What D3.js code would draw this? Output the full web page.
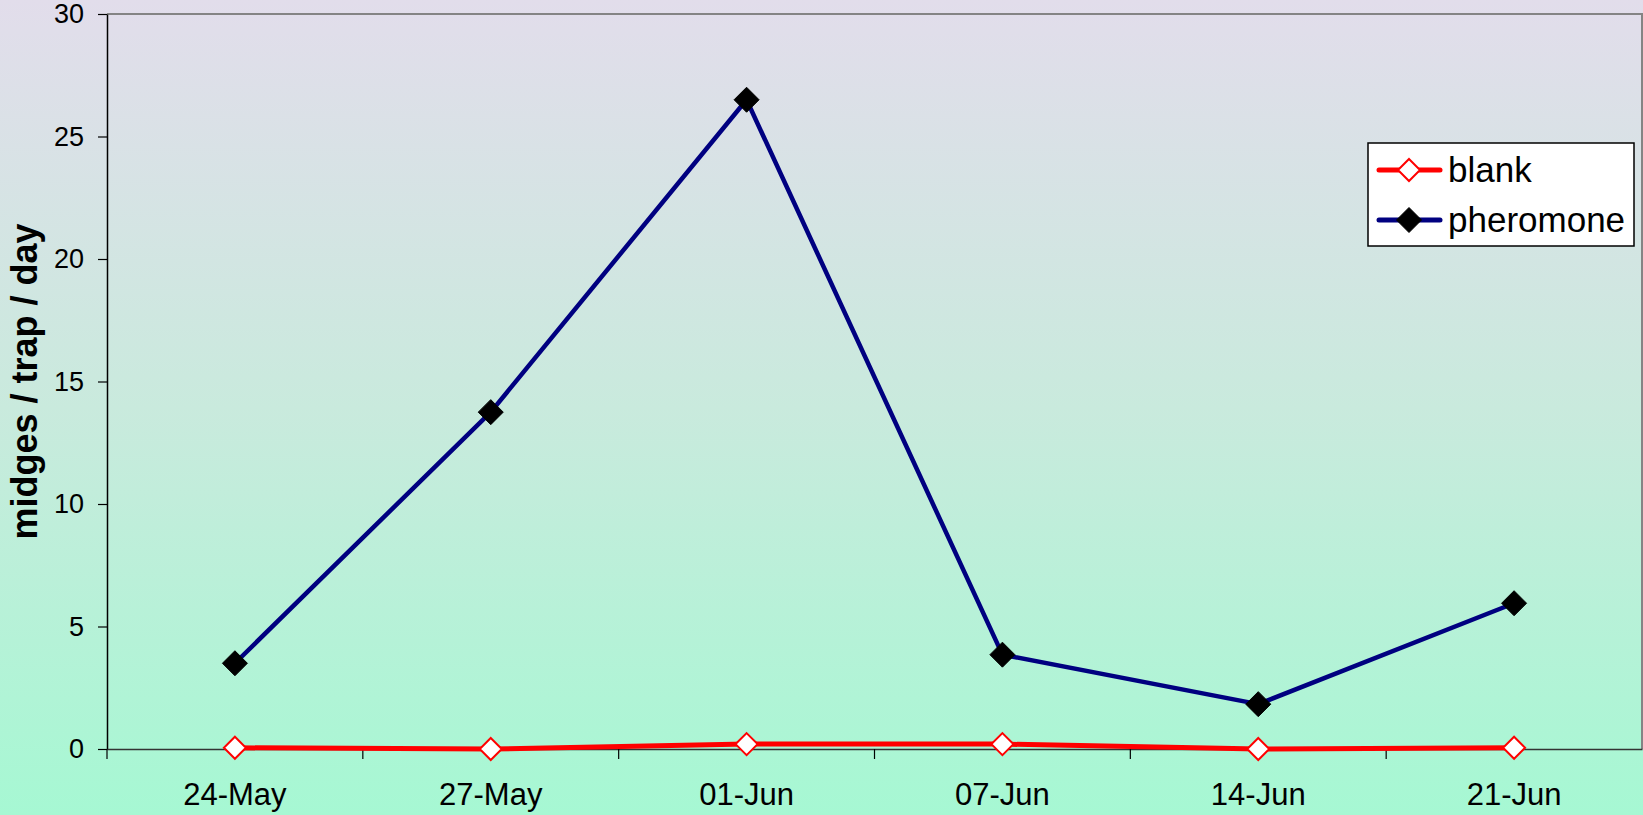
<!DOCTYPE html>
<html>
<head>
<meta charset="utf-8">
<script src="https://cdn.jsdelivr.net/npm/d3@7"></script>
<style>
html,body{margin:0;padding:0;overflow:hidden;}
svg{display:block;font-family:"Liberation Sans",Arial,sans-serif;}
</style>
</head>
<body>
<svg id="chart" width="1643" height="815"></svg>
<script>
const categories = ["24-May","27-May","01-Jun","07-Jun","14-Jun","21-Jun"];
const blank = [0.05, 0, 0.2, 0.2, 0, 0.05];
const pheromone = [3.5, 13.75, 26.5, 3.85, 1.83, 5.95];
const yTicks = [0,5,10,15,20,25,30];
const seriesNames = ["blank","pheromone"];

const W = 1643, H = 815;
const m = {left:107, right:1, top:14, bottom:66};
const svg = d3.select("#chart");

const defs = svg.append("defs");
const grad = defs.append("linearGradient").attr("id","bg").attr("x1",0).attr("y1",0).attr("x2",0).attr("y2",1);
grad.append("stop").attr("offset","0%").attr("stop-color","#e2ddeb");
grad.append("stop").attr("offset","50%").attr("stop-color","#c9eadd");
grad.append("stop").attr("offset","100%").attr("stop-color","#a6f8d3");
svg.append("rect").attr("width",W).attr("height",H).attr("fill","url(#bg)");

const x = d3.scaleBand().domain(categories).range([m.left, W - m.right]);
const y = d3.scaleLinear().domain([0,30]).range([H - m.bottom, m.top]);

// plot border (top and right)
svg.append("path")
  .attr("d", `M${m.left},${y(30)}H${W-m.right}V${y(0)}`)
  .attr("fill","none").attr("stroke","#848484").attr("stroke-width",2);

// y axis
const yAxis = d3.axisLeft(y).tickValues(yTicks).tickSize(9).tickPadding(14).tickSizeOuter(0);
const gy = svg.append("g").attr("transform",`translate(${m.left},0)`).call(yAxis);
gy.select(".domain").attr("stroke","#000").attr("stroke-width",1.5);
gy.selectAll(".tick line").attr("stroke","#000").attr("stroke-width",1.2);
gy.selectAll(".tick text").attr("font-size",27).attr("fill","#000").attr("font-family","Liberation Sans, Arial, sans-serif");

// x axis
const xAxis = d3.axisBottom(x).tickSize(0).tickPadding(34).tickSizeOuter(0);
const gx = svg.append("g").attr("transform",`translate(0,${y(0)})`).call(xAxis);
gx.select(".domain").attr("stroke","#333").attr("stroke-width",1.5);
gx.selectAll(".tick text").attr("font-size",31).attr("fill","#000").attr("font-family","Liberation Sans, Arial, sans-serif");
// category boundary ticks
const bounds = categories.map(c => x(c));
gx.selectAll(".bt").data(bounds).enter().append("line")
  .attr("x1", d => d).attr("x2", d => d).attr("y1", 0).attr("y2", 10)
  .attr("stroke","#000").attr("stroke-width",1.2);

// y axis title
svg.append("text")
  .attr("transform",`translate(37,${(y(0)+y(30))/2}) rotate(-90)`)
  .attr("text-anchor","middle")
  .attr("font-size",36).attr("font-weight","bold").attr("fill","#000")
  .text("midges / trap / day");

const cx = c => x(c) + x.bandwidth()/2;
const line = d3.line().x((d,i) => cx(categories[i])).y(d => y(d));
const diamond = s => `M0,${-s}L${s},0L0,${s}L${-s},0Z`;

// pheromone series
svg.append("path").datum(pheromone).attr("d", line)
  .attr("fill","none").attr("stroke","#000080").attr("stroke-width",4.5).attr("stroke-linejoin","round");
svg.selectAll(".pm").data(pheromone).enter().append("path")
  .attr("transform",(d,i)=>`translate(${cx(categories[i])},${y(d)})`)
  .attr("d", diamond(12.5)).attr("fill","#000").attr("stroke","#000").attr("stroke-width",1);

// blank series
svg.append("path").datum(blank).attr("d", line)
  .attr("fill","none").attr("stroke","#ff0000").attr("stroke-width",5).attr("stroke-linejoin","round");
svg.selectAll(".bm").data(blank).enter().append("path")
  .attr("transform",(d,i)=>`translate(${cx(categories[i])},${y(d)})`)
  .attr("d", diamond(11)).attr("fill","#fff").attr("stroke","#ff0000").attr("stroke-width",2);

// legend
const lg = svg.append("g");
lg.append("rect").attr("x",1368).attr("y",143).attr("width",266).attr("height",103)
  .attr("fill","#fff").attr("stroke","#000").attr("stroke-width",1.5);
const legendItems = [
  {name: seriesNames[0], color:"#ff0000", fill:"#fff", size:11, sw:2, y:170},
  {name: seriesNames[1], color:"#000080", fill:"#000", size:12.5, sw:1, y:220}
];
legendItems.forEach(it => {
  lg.append("line").attr("x1",1379).attr("x2",1440).attr("y1",it.y).attr("y2",it.y)
    .attr("stroke",it.color).attr("stroke-width",5).attr("stroke-linecap","round");
  lg.append("path").attr("transform",`translate(1409,${it.y})`).attr("d",diamond(it.size))
    .attr("fill",it.fill).attr("stroke", it.fill === "#000" ? "#000" : it.color).attr("stroke-width",it.sw);
  lg.append("text").attr("x",1448).attr("y",it.y+12).attr("font-size",35).attr("fill","#000").text(it.name);
});
</script>
</body>
</html>
